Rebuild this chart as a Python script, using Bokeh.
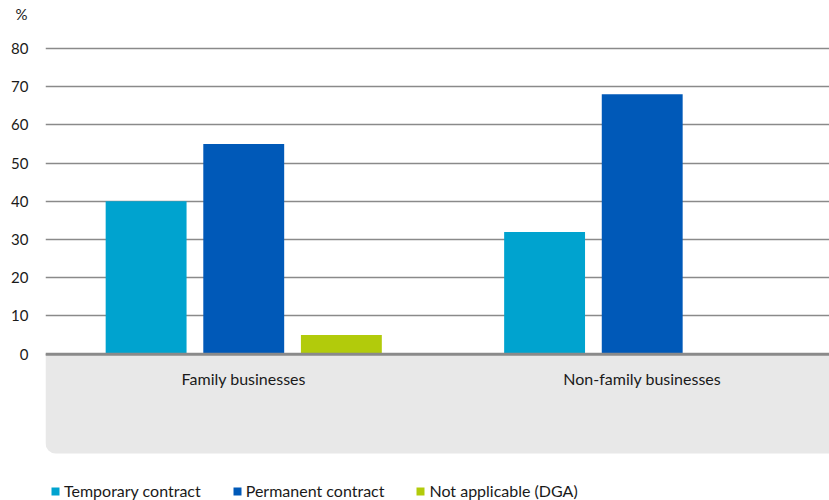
from bokeh.plotting import figure
from bokeh.models import Range1d, Span, BoxAnnotation, Legend, LegendItem, ColumnDataSource, FixedTicker
from bokeh.transform import dodge
from bokeh.core.properties import value
from bokeh.embed import file_html
from bokeh.resources import INLINE

categories = ["Family businesses", "Non-family businesses"]
series = ["Temporary contract", "Permanent contract", "Not applicable (DGA)"]
temporary = [40, 32]
permanent = [55, 68]
not_applicable = [5, 0]
y_ticks = [0, 10, 20, 30, 40, 50, 60, 70, 80]
colors = ["#00a3cf", "#0059b8", "#b2cb0b"]

FONT = "Lato"

pos = [i + 0.5 for i in range(len(categories))]
src = ColumnDataSource(dict(x=pos, cat=categories, t=temporary, p=permanent, n=not_applicable))

W, H = 829, 500
p = figure(x_range=Range1d(0.0025, 1.97), y_range=Range1d(-38.3, 86.8),
           width=W, height=H, output_backend="svg", toolbar_location=None,
           min_border_left=45, min_border_right=0, min_border_top=22, min_border_bottom=0)
p.outline_line_color = None
p.background_fill_color = "white"
p.border_fill_color = "white"

p.title.text = "%"
p.title.align = "left"
p.title.offset = -30
p.title.standoff = 0
p.title.text_font = FONT
p.title.text_font_size = "15px"
p.title.text_font_style = "normal"
p.title.text_color = "#1a1a1a"

band = BoxAnnotation(top=0, bottom=-26.0, fill_color="#e8e8e8", fill_alpha=1, line_color=None,
                     border_radius=(0, 0, 0, 10), level="underlay")
p.add_layout(band)

offs = [-0.245, 0.0, 0.245]
cols = ["t", "p", "n"]
renderers = []
for c, o, col in zip(cols, offs, colors):
    r = p.vbar(x=dodge("x", o), top=c, bottom=0, width=0.203,
               source=src, fill_color=col, line_color=None)
    renderers.append(r)

zero = Span(location=0, dimension="width", line_color="#8a8a8a", line_width=3)
p.add_layout(zero)

p.xaxis.visible = False
p.xgrid.visible = False
p.yaxis.ticker = FixedTicker(ticks=y_ticks)
p.yaxis.axis_line_color = None
p.yaxis.major_tick_line_color = None
p.yaxis.minor_tick_line_color = None
p.yaxis.major_tick_out = 0
p.yaxis.major_tick_in = 0
p.yaxis.major_label_text_font = FONT
p.yaxis.major_label_text_font_size = "15px"
p.yaxis.major_label_text_color = "#1a1a1a"
p.yaxis.major_label_standoff = 17
p.ygrid.grid_line_color = "#8a8a8a"
p.ygrid.grid_line_width = 1.5

p.text(x="x", y=-6.3, text="cat", source=src, text_align="center", text_baseline="middle",
       text_font=value(FONT), text_font_size="16px", text_color="#1a1a1a")

legend = Legend(items=[LegendItem(label=s, renderers=[r]) for s, r in zip(series, renderers)],
                orientation="horizontal", location=(5, 0),
                glyph_width=10, glyph_height=10, label_standoff=4, spacing=31,
                label_text_font=FONT, label_text_font_size="16px", label_text_color="#1a1a1a",
                padding=0, margin=0, border_line_color=None, background_fill_alpha=0,
                label_height=18)
p.add_layout(legend)

open("out.html", "w").write(file_html(p, INLINE))
